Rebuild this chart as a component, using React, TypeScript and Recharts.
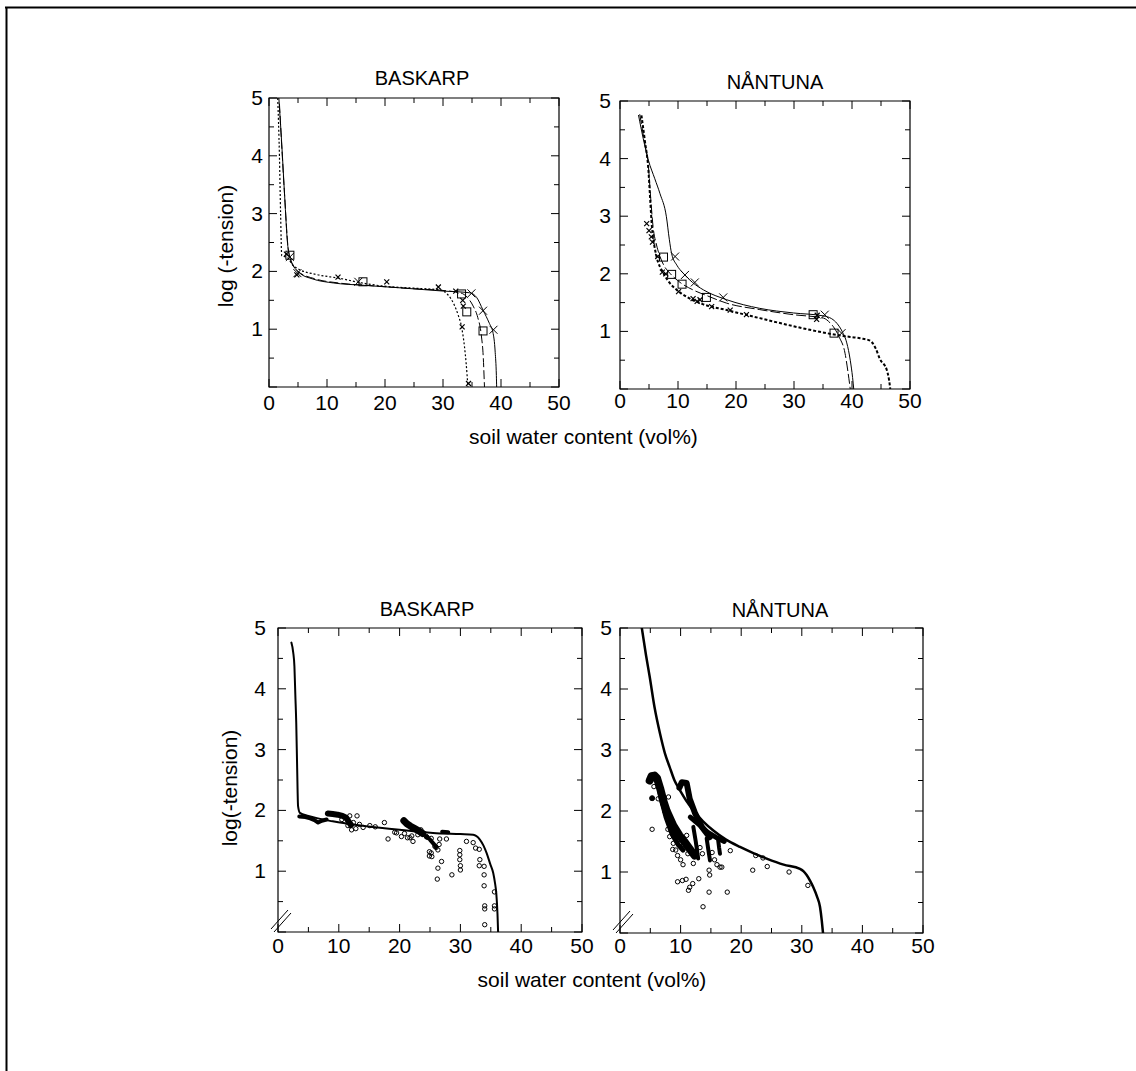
import React from 'react';
import { ComposedChart, Line, Scatter, XAxis, YAxis, ReferenceArea } from 'recharts';

const FONT = '"Liberation Sans", Arial, Helvetica, sans-serif';

// ---------- tick values ----------
const xTicks = [0, 5, 10, 15, 20, 25, 30, 35, 40, 45, 50];
const yTicks = [0, 0.5, 1, 1.5, 2, 2.5, 3, 3.5, 4, 4.5, 5];
const xLabelTicks = [0, 10, 20, 30, 40, 50];
const yLabelTicks = [1, 2, 3, 4, 5];

// ---------- titles ----------
const titleBaskarp = 'BASKARP';
const titleNantuna = 'NÅNTUNA';
const yTitleTop = 'log (-tension)';
const yTitleBottom = 'log(-tension)';
const xTitle = 'soil water content (vol%)';

// ---------- BASKARP (top) : [water content, log tension] ----------
const tlSolid = [[1.7, 5.0], [2.2, 4.2], [2.7, 3.3], [3.2, 2.48], [3.6, 2.25], [4.2, 2.1], [5.3, 1.97], [7.5, 1.87], [11.1, 1.8], [16.2, 1.76], [22, 1.72], [30, 1.66], [34.6, 1.63], [35.8, 1.55], [36.9, 1.33], [38.0, 1.1], [38.6, 0.95], [39.0, 0.6], [39.2, 0.2], [39.25, 0.0]];
const tlDashed = [[1.8, 4.9], [2.7, 3.3], [3.3, 2.4], [3.8, 2.18], [5.0, 2.0], [8.0, 1.87], [12, 1.8], [18, 1.75], [25, 1.7], [31, 1.66], [33.0, 1.63], [34.2, 1.55], [35.2, 1.4], [36.0, 1.2], [36.6, 0.9], [36.95, 0.5], [37.15, 0.0]];
const tlDotted = [[1.5, 5.0], [1.8, 4.0], [2.0, 3.0], [2.2, 2.27], [3.2, 2.24], [4.0, 2.12], [5.3, 2.03], [8.0, 1.95], [12.2, 1.88], [16, 1.8], [20.3, 1.74], [25, 1.71], [29.5, 1.68], [30.8, 1.6], [31.8, 1.45], [32.6, 1.25], [33.2, 1.04], [33.7, 0.7], [34.0, 0.4], [34.3, 0.0]];
const tlSquares = [[3.6, 2.28], [16.2, 1.82], [33.2, 1.61], [34.1, 1.3], [36.9, 0.97]];
const tlCrosses = [[3.6, 2.25], [4.9, 1.97], [15.4, 1.82], [34.9, 1.62], [36.9, 1.32], [38.7, 0.99]];
const tlSmall = [[3.0, 2.3], [4.8, 1.94], [11.9, 1.9], [20.3, 1.82], [29.2, 1.73], [32.2, 1.66], [33.4, 1.5], [33.5, 1.4], [33.3, 1.04], [34.4, 0.06]];

// ---------- NÅNTUNA (top) ----------
const trSolid = [[3.2, 4.75], [4.0, 4.35], [4.9, 3.97], [6.0, 3.65], [6.9, 3.39], [8.0, 2.99], [8.5, 2.6], [8.9, 2.35], [9.8, 2.15], [10.9, 2.01], [12.5, 1.85], [14.4, 1.72], [18.4, 1.55], [24.1, 1.4], [29.9, 1.32], [35.0, 1.27], [36.5, 1.22], [37.4, 1.14], [38.3, 1.0], [39.1, 0.8], [39.7, 0.5], [40.1, 0.2], [40.3, 0.0]];
const trDashed = [[3.4, 4.77], [4.2, 4.3], [4.9, 3.86], [5.3, 3.3], [5.7, 2.82], [6.3, 2.5], [6.9, 2.3], [7.6, 2.14], [8.6, 2.01], [10.5, 1.84], [12.6, 1.72], [15.0, 1.62], [18.4, 1.49], [24, 1.38], [29.9, 1.29], [35.1, 1.23], [36.2, 1.15], [36.8, 1.08], [37.8, 0.9], [38.8, 0.62], [39.3, 0.3], [39.7, 0.0]];
const trDotted = [[3.7, 4.75], [4.3, 4.3], [4.9, 3.8], [5.2, 3.3], [5.5, 2.82], [5.9, 2.5], [6.3, 2.3], [7.5, 2.01], [8.5, 1.85], [9.8, 1.72], [11.5, 1.6], [13.8, 1.49], [18.4, 1.37], [24.1, 1.23], [29.9, 1.09], [35.6, 0.97], [38.5, 0.92], [41.4, 0.88], [43.1, 0.84], [44.1, 0.7], [44.8, 0.52], [46.0, 0.33], [46.4, 0.15], [46.6, 0.0]];
const trSquares = [[7.5, 2.29], [8.9, 1.99], [10.7, 1.82], [14.9, 1.59], [33.3, 1.29], [36.9, 0.97]];
const trCrosses = [[9.5, 2.3], [11.2, 1.98], [12.9, 1.85], [17.8, 1.59], [35.3, 1.29], [38.2, 0.97]];
const trSmall = [[4.6, 2.87], [5.0, 2.75], [5.4, 2.64], [5.6, 2.55], [6.5, 2.3], [7.3, 2.03], [7.9, 2.0], [10.1, 1.69], [12.6, 1.57], [13.3, 1.52], [13.8, 1.55], [15.8, 1.43], [19.0, 1.37], [21.8, 1.29], [33.9, 1.21], [34.0, 1.28]];

// ---------- BASKARP (bottom) ----------
const blCurve = [[2.2, 4.76], [2.5, 4.6], [2.7, 4.37], [2.85, 3.9], [3.0, 3.44], [3.15, 2.7], [3.3, 2.07], [3.6, 1.96], [5, 1.91], [9.0, 1.82], [14.5, 1.74], [20.0, 1.68], [25.5, 1.63], [30, 1.61], [32.1, 1.6], [33.2, 1.52], [33.8, 1.42], [34.3, 1.3], [34.9, 1.12], [35.4, 0.97], [35.7, 0.8], [35.9, 0.64], [36.1, 0.3], [36.2, 0.0]];
const blBand1 = [[3.5, 1.9], [4.5, 1.89], [5.3, 1.87], [6.0, 1.84], [6.6, 1.8], [7.2, 1.83], [8.0, 1.85]];
const blBand2 = [[8.2, 1.95], [9.0, 1.94], [9.8, 1.93], [10.6, 1.91], [11.2, 1.88], [11.6, 1.82], [12.0, 1.76]];
const blBand3 = [[20.7, 1.83], [21.2, 1.78], [21.8, 1.74], [22.5, 1.7], [23.2, 1.66], [23.8, 1.62]];
const blBand4 = [[24.4, 1.57], [25.0, 1.52], [25.6, 1.45], [26.0, 1.4]];
const blBand5 = [[27.0, 1.65], [28.0, 1.64]];
const blCircles = [[11.8, 1.91], [13.0, 1.91], [12.1, 1.68], [13.4, 1.77], [15.1, 1.75], [17.5, 1.8], [18.1, 1.53], [19.2, 1.64], [22.2, 1.49], [24.5, 1.56], [25.2, 1.54], [25.8, 1.41], [26.6, 1.53], [26.3, 1.35], [24.9, 1.32], [24.9, 1.25], [26.9, 1.16], [26.3, 1.05], [26.2, 0.87], [27.7, 1.53], [28.6, 0.94], [29.9, 1.34], [29.9, 1.27], [29.9, 1.19], [30.0, 1.09], [30.0, 1.02], [31.0, 1.49], [32.1, 1.47], [32.5, 1.38], [33.1, 1.36], [33.2, 1.19], [33.1, 1.09], [33.9, 1.08], [33.9, 0.94], [33.9, 0.76], [34.0, 0.43], [34.0, 0.38], [34.0, 0.12], [35.6, 0.66], [35.6, 0.43], [35.6, 0.38], [12.4, 1.8], [14.0, 1.72], [10.5, 1.85], [21.3, 1.55], [20.8, 1.62], [22.0, 1.58], [23.0, 1.6], [23.5, 1.68], [16.0, 1.73], [11.5, 1.75], [12.8, 1.7], [26.5, 1.44], [26.0, 1.39], [19.5, 1.63], [20.3, 1.57], [21.7, 1.55], [24.4, 1.57], [25.2, 1.3], [25.3, 1.24]];

// ---------- NÅNTUNA (bottom) ----------
const brCurve = [[3.6, 5.0], [4.3, 4.55], [4.9, 4.2], [5.7, 3.7], [6.6, 3.27], [7.4, 2.95], [8.2, 2.72], [9.0, 2.5], [9.9, 2.34], [11.0, 2.16], [12.1, 2.01], [13.7, 1.83], [15.4, 1.68], [17.5, 1.53], [19.8, 1.41], [22, 1.31], [24.2, 1.22], [27, 1.12], [29.7, 1.05], [30.3, 1.01], [30.8, 0.95], [31.4, 0.85], [31.9, 0.75], [32.5, 0.6], [33.0, 0.43], [33.3, 0.2], [33.5, 0.0]];
const brBandA = [[4.9, 2.5], [5.2, 2.57], [5.7, 2.58], [6.1, 2.54], [6.6, 2.38], [7.2, 2.15], [7.7, 2.0], [8.8, 1.76], [9.8, 1.6], [10.6, 1.5], [11.5, 1.38], [12.3, 1.27]];
const brBandA2 = [[6.2, 2.5], [6.8, 2.2], [7.6, 1.9], [8.6, 1.62], [9.6, 1.45], [10.4, 1.36]];
const brBandB = [[9.8, 2.38], [10.2, 2.47], [11.0, 2.46], [11.5, 2.2], [12.4, 1.96], [13.5, 1.74], [14.8, 1.57]];
const brBandC = [[11.6, 1.9], [13.0, 1.78], [14.5, 1.65], [16.0, 1.56], [17.2, 1.5]];
const brBranch1 = [[12.1, 1.74], [12.5, 1.5], [12.9, 1.22]];
const brBranch2 = [[14.3, 1.55], [14.6, 1.35], [14.85, 1.19]];
const brBranch3 = [[16.2, 1.52], [16.35, 1.4], [16.5, 1.3]];
const brCircles = [[5.3, 1.7], [8.7, 1.37], [9.5, 1.27], [10.0, 1.2], [10.4, 1.12], [12.1, 1.14], [9.5, 0.84], [10.3, 0.86], [10.9, 0.88], [12.0, 0.81], [11.5, 0.75], [11.3, 0.7], [13.0, 0.89], [14.7, 0.67], [17.7, 0.67], [13.7, 0.43], [14.7, 1.03], [14.8, 0.95], [16.5, 1.08], [16.8, 1.08], [18.2, 1.35], [21.9, 1.03], [22.4, 1.27], [23.6, 1.23], [24.3, 1.09], [27.9, 1.0], [31.0, 0.78], [6.9, 2.29], [7.1, 2.12], [7.4, 1.99], [8.5, 1.82], [9.1, 1.74], [9.6, 1.58], [9.9, 1.47], [10.4, 1.38], [8.8, 1.47], [11.0, 1.6], [8.0, 2.23], [6.3, 2.2], [13.2, 1.4], [15.6, 1.2], [16.0, 1.12], [5.6, 2.4], [7.9, 1.7], [8.2, 1.58], [9.2, 1.36], [11.2, 1.3], [13.6, 1.3], [15.2, 1.32]];
const brFilled = [[5.3, 2.21]];

type Pt = { x: number; y: number };
const pts = (a: number[][]): Pt[] => a.map(([x, y]) => ({ x, y }));

// ---------- marker shapes ----------
const SquareShape = (p: any) => (
  <rect x={p.cx - 4} y={p.cy - 4} width={8} height={8} fill="none" stroke="#000" strokeWidth={1} />
);
const makeCross = (s: number, w: number) => (p: any) => (
  <path d={`M${p.cx - s},${p.cy - s}L${p.cx + s},${p.cy + s}M${p.cx - s},${p.cy + s}L${p.cx + s},${p.cy - s}`} stroke="#000" strokeWidth={w} fill="none" />
);
const CrossShape = makeCross(4, 1);
const SmallCross = makeCross(2.5, 1.2);
const CircleShape = (p: any) => <circle cx={p.cx} cy={p.cy} r={2.2} fill="none" stroke="#000" strokeWidth={1} />;
const FilledShape = (p: any) => <circle cx={p.cx} cy={p.cy} r={2.5} fill="#000" stroke="#000" />;

const L = 50;
const T = 14;
const R = 14;
const B = 40;

type PanelProps = {
  left: number; top: number; w: number; h: number;
  brk?: boolean; xLabelDy: number; yLabelGap: number;
  children?: React.ReactNode;
};

function Panel({ left, top, w, h, brk, xLabelDy, yLabelGap, children }: PanelProps) {
  const XTick = (p: any) => {
    const v = p.payload.value;
    const x = p.x;
    const major = v % 10 === 0;
    const len = major ? 8 : 5;
    const yb = T + h;
    const yt = T;
    return (
      <g>
        <line x1={x} x2={x} y1={yb} y2={yb - len} stroke="#000" strokeWidth={1} />
        <line x1={x} x2={x} y1={yt} y2={yt + len} stroke="#000" strokeWidth={1} />
        {xLabelTicks.includes(v) && (
          <text x={x} y={yb + xLabelDy} textAnchor="middle" fontFamily={FONT} fontSize={21} fill="#000">{v}</text>
        )}
      </g>
    );
  };
  const YTick = (p: any) => {
    const v = p.payload.value;
    const y = p.y;
    const major = Number.isInteger(v);
    const len = major ? 8 : 5;
    const xl = L;
    const xr = L + w;
    return (
      <g>
        <line x1={xl} x2={xl + len} y1={y} y2={y} stroke="#000" strokeWidth={1} />
        <line x1={xr} x2={xr - len} y1={y} y2={y} stroke="#000" strokeWidth={1} />
        {yLabelTicks.includes(v) && (
          <text x={xl - yLabelGap} y={y + 7} textAnchor="end" fontFamily={FONT} fontSize={21} fill="#000">{v}</text>
        )}
        {brk && v === 0 && (
          <g stroke="#000" strokeWidth={1}>
            <line x1={xl - 7} y1={y - 3} x2={xl + 10} y2={y - 22} />
            <line x1={xl - 4} y1={y} x2={xl + 13} y2={y - 19} />
          </g>
        )}
      </g>
    );
  };
  return (
    <div style={{ position: 'absolute', left: left - L, top: top - T }}>
      <ComposedChart width={w + L + R} height={h + T + B} margin={{ top: T, right: R, bottom: 0, left: 0 }}>
        <XAxis type="number" dataKey="x" domain={[0, 50]} ticks={xTicks} interval={0} allowDataOverflow axisLine={false} tickLine={false} tickSize={0} tickMargin={0} height={B} tick={XTick} />
        <YAxis type="number" dataKey="y" domain={[0, 5]} ticks={yTicks} interval={0} allowDataOverflow axisLine={false} tickLine={false} tickSize={0} tickMargin={0} width={L} tick={YTick} />
        <ReferenceArea x1={0} x2={50} y1={0} y2={5} fill="none" fillOpacity={0} stroke="#000" strokeWidth={1.2} ifOverflow="visible" />
        {children}
      </ComposedChart>
    </div>
  );
}

const line = (data: number[][], dash?: string, width = 1, type: any = 'monotone', key?: string) => (
  <Line key={key} data={pts(data)} dataKey="y" type={type} stroke="#000" strokeWidth={width} strokeDasharray={dash} strokeLinejoin="round" strokeLinecap={dash ? 'butt' : 'round'} dot={false} activeDot={false} isAnimationActive={false} legendType="none" />
);
const scatter = (data: number[][], shape: any, key?: string) => (
  <Scatter key={key} data={pts(data)} dataKey="y" shape={shape} isAnimationActive={false} legendType="none" />
);

export default function App() {
  return (
    <div style={{ position: 'absolute', left: 0, top: 0, width: 1136, height: 1071, background: '#fff', overflow: 'hidden' }}>
      <svg width={1136} height={1071} style={{ position: 'absolute', left: 0, top: 0 }}>
        <line x1={5} y1={7.5} x2={1136} y2={7.5} stroke="#000" strokeWidth={2} />
        <line x1={6.5} y1={7} x2={6.5} y2={1071} stroke="#000" strokeWidth={2} />
        <text x={422} y={85} textAnchor="middle" fontFamily={FONT} fontSize={20}>{titleBaskarp}</text>
        <text x={775} y={89} textAnchor="middle" fontFamily={FONT} fontSize={20}>{titleNantuna}</text>
        <text x={427} y={616} textAnchor="middle" fontFamily={FONT} fontSize={20}>{titleBaskarp}</text>
        <text x={780} y={617} textAnchor="middle" fontFamily={FONT} fontSize={20}>{titleNantuna}</text>
        <text transform="translate(232.5,246) rotate(-90)" textAnchor="middle" fontFamily={FONT} fontSize={21}>{yTitleTop}</text>
        <text transform="translate(237,788) rotate(-90)" textAnchor="middle" fontFamily={FONT} fontSize={21}>{yTitleBottom}</text>
        <text x={583.5} y={444} textAnchor="middle" fontFamily={FONT} fontSize={21}>{xTitle}</text>
        <text x={592} y={987} textAnchor="middle" fontFamily={FONT} fontSize={21}>{xTitle}</text>
      </svg>

      <Panel left={269} top={98} w={290} h={289} xLabelDy={23} yLabelGap={6}>
        {line(tlDotted, '2 2', 1.2, 'monotone', 'a')}
        {line(tlDashed, '9 3', 1, 'monotone', 'b')}
        {line(tlSolid, undefined, 1, 'monotone', 'c')}
        {scatter(tlSquares, SquareShape, 'd')}
        {scatter(tlCrosses, CrossShape, 'e')}
        {scatter(tlSmall, SmallCross, 'f')}
      </Panel>

      <Panel left={620} top={101} w={290} h={288} xLabelDy={19} yLabelGap={9}>
        {line(trDotted, '3 2', 2, 'monotone', 'a')}
        {line(trDashed, '10 3', 1, 'monotone', 'b')}
        {line(trSolid, undefined, 1, 'monotone', 'c')}
        {scatter(trSquares, SquareShape, 'd')}
        {scatter(trCrosses, CrossShape, 'e')}
        {scatter(trSmall, SmallCross, 'f')}
      </Panel>

      <Panel left={278} top={628} w={304} h={304} brk xLabelDy={21} yLabelGap={12}>
        {line(blCurve, undefined, 2, 'monotone', 'a')}
        {line(blBand1, undefined, 4, 'linear', 'b')}
        {line(blBand2, undefined, 6, 'linear', 'c')}
        {line(blBand3, undefined, 7, 'linear', 'd')}
        {line(blBand4, undefined, 4, 'linear', 'e')}
        {line(blBand5, undefined, 4, 'linear', 'f')}
        {scatter(blCircles, CircleShape, 'g')}
      </Panel>

      <Panel left={620} top={628} w={303} h={305} brk xLabelDy={20} yLabelGap={8}>
        {line(brCurve, undefined, 2.5, 'monotone', 'a')}
        {line(brBandA, undefined, 8, 'linear', 'b')}
        {line(brBandA2, undefined, 5, 'linear', 'b2')}
        {line(brBandB, undefined, 6, 'linear', 'c')}
        {line(brBandC, undefined, 5, 'linear', 'd')}
        {line(brBranch1, undefined, 4, 'linear', 'e')}
        {line(brBranch2, undefined, 4, 'linear', 'f')}
        {line(brBranch3, undefined, 4, 'linear', 'g')}
        {scatter(brCircles, CircleShape, 'h')}
        {scatter(brFilled, FilledShape, 'i')}
      </Panel>
    </div>
  );
}
